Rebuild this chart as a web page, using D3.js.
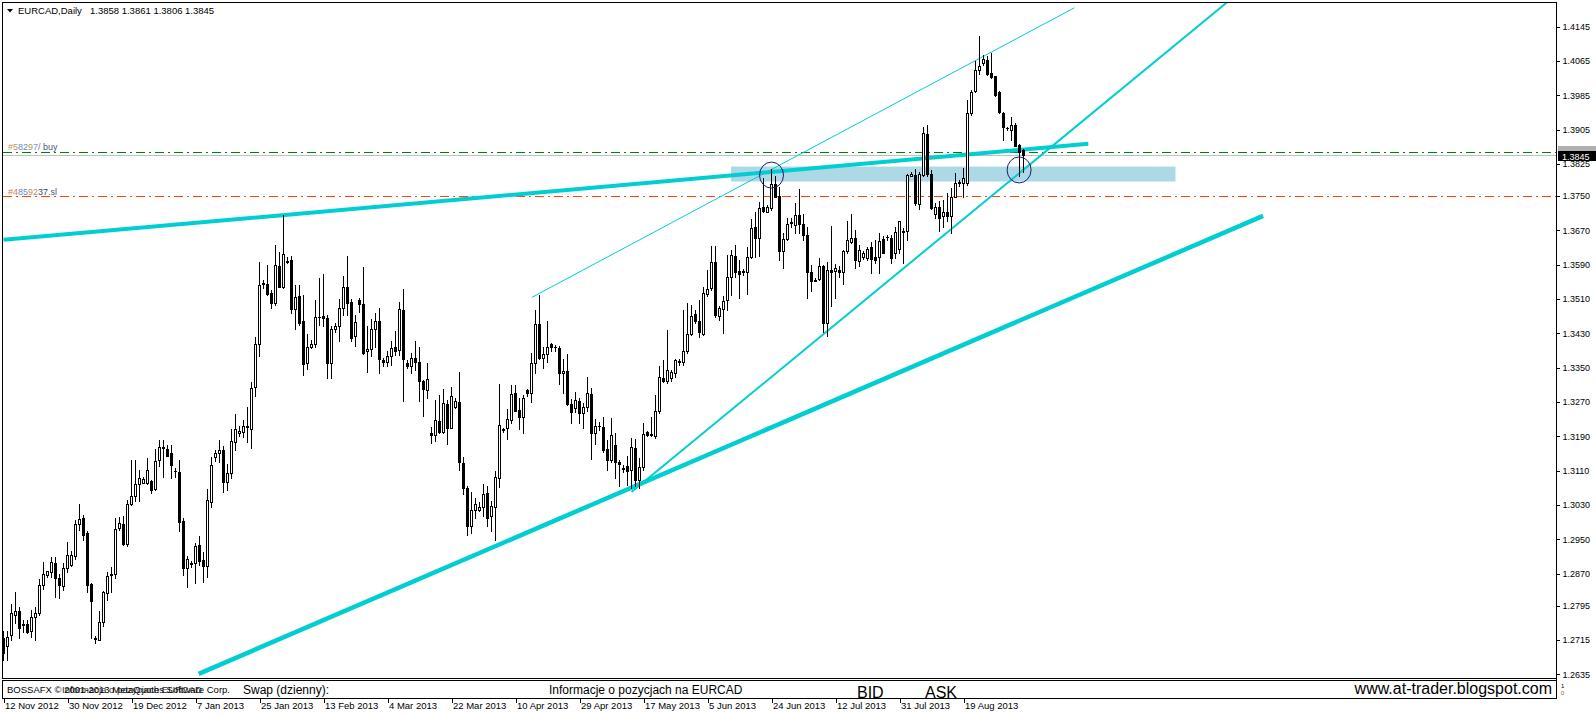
<!DOCTYPE html>
<html><head><meta charset="utf-8">
<script src="https://cdn.jsdelivr.net/npm/d3@7"></script>
<style>
html,body{margin:0;padding:0;background:#fff;overflow:hidden;}
svg{display:block;}
text{font-family:"Liberation Sans",Arial,sans-serif;}
</style></head><body>
<svg id="chart" width="1596" height="716"></svg>
<script>
// ---------------- DATA ----------------
const symbolTitle = "EURCAD,Daily";
const lastOHLC = [1.3858, 1.3861, 1.3806, 1.3845];

const opens = [
1.2719,1.2700,1.2727,1.2774,1.2783,1.2753,1.2753,1.2735,1.2768,1.2779,
1.2844,1.2867,1.2873,1.2894,1.2859,1.2842,1.2883,1.2889,1.2910,1.2986,
1.2999,1.2964,1.2846,1.2717,1.2716,1.2758,1.2824,1.2867,1.2869,1.2976,
1.2986,1.2939,1.3033,1.3051,1.3079,1.3082,1.3081,1.3085,1.3067,1.3134,
1.3162,1.3161,1.3152,1.3109,1.3106,1.2992,1.2882,1.2893,1.2894,1.2936,
1.2902,1.2888,1.3037,1.3142,1.3152,1.3159,1.3084,1.3104,1.3177,1.3197,
1.3199,1.3211,1.3208,1.3304,1.3404,1.3546,1.3546,1.3523,1.3500,1.3587,
1.3539,1.3597,1.3601,1.3486,1.3517,1.3459,1.3360,1.3397,1.3405,1.3468,
1.3470,1.3465,1.3361,1.3439,1.3448,1.3490,1.3537,1.3502,1.3423,1.3508,
1.3498,1.3388,1.3393,1.3440,1.3459,1.3367,1.3364,1.3378,1.3398,1.3392,
1.3485,1.3361,1.3355,1.3372,1.3363,1.3319,1.3297,1.3197,1.3193,1.3226,
1.3200,1.3266,1.3210,1.3258,1.3270,1.3127,1.3069,1.2980,1.3017,1.3017,
1.3024,1.3057,1.3003,1.3025,1.3092,1.3206,1.3209,1.3228,1.3290,1.3252,
1.3236,1.3298,1.3291,1.3360,1.3451,1.3372,1.3381,1.3405,1.3399,1.3395,
1.3337,1.3343,1.3265,1.3256,1.3273,1.3244,1.3258,1.3288,1.3197,1.3215,
1.3211,1.3161,1.3134,1.3169,1.3131,1.3117,1.3121,1.3112,1.3162,1.3089,
1.3118,1.3201,1.3192,1.3190,1.3248,1.3327,1.3318,1.3326,1.3337,1.3365,
1.3364,1.3388,1.3428,1.3475,1.3459,1.3428,1.3522,1.3535,1.3596,1.3471,
1.3487,1.3507,1.3562,1.3611,1.3576,1.3575,1.3574,1.3607,1.3679,1.3652,
1.3724,1.3712,1.3722,1.3779,1.3751,1.3623,1.3650,1.3689,1.3683,1.3706,
1.3684,1.3660,1.3574,1.3555,1.3556,1.3587,1.3454,1.3578,1.3576,1.3578,
1.3573,1.3621,1.3644,1.3653,1.3599,1.3607,1.3605,1.3631,1.3609,1.3609,
1.3651,1.3655,1.3652,1.3617,1.3626,1.3668,1.3668,1.3798,1.3800,1.3731,
1.3800,1.3895,1.3802,1.3709,1.3724,1.3703,1.3713,1.3703,1.3749,1.3783,
1.3780,1.3780,1.3943,1.3994,1.4043,1.4060,1.4068,1.4037,1.4029,1.3992,
1.3943,1.3909,1.3903,1.3916,1.3870,1.3858];

const highs = [
1.2735,1.2735,1.2799,1.2826,1.2793,1.2762,1.2762,1.2786,1.2793,1.2858,
1.2897,1.2877,1.2908,1.2908,1.2869,1.2894,1.2943,1.2923,1.2995,1.3033,
1.3007,1.2968,1.2849,1.2725,1.2783,1.2830,1.2873,1.2886,1.2999,1.3002,
1.3003,1.3042,1.3135,1.3135,1.3112,1.3096,1.3139,1.3089,1.3161,1.3182,
1.3182,1.3170,1.3170,1.3116,1.3135,1.3000,1.2911,1.2900,1.2940,1.2957,
1.2919,1.3066,1.3141,1.3158,1.3181,1.3167,1.3125,1.3208,1.3242,1.3214,
1.3229,1.3259,1.3316,1.3422,1.3597,1.3554,1.3589,1.3531,1.3637,1.3619,
1.3705,1.3607,1.3610,1.3543,1.3543,1.3519,1.3428,1.3414,1.3508,1.3558,
1.3568,1.3473,1.3447,1.3455,1.3511,1.3563,1.3610,1.3511,1.3473,1.3512,
1.3585,1.3446,1.3463,1.3477,1.3489,1.3372,1.3388,1.3412,1.3436,1.3503,
1.3534,1.3367,1.3385,1.3411,1.3398,1.3322,1.3360,1.3211,1.3275,1.3287,
1.3301,1.3275,1.3304,1.3280,1.3341,1.3141,1.3073,1.3061,1.3046,1.3036,
1.3078,1.3073,1.3038,1.3108,1.3312,1.3210,1.3253,1.3310,1.3310,1.3279,
1.3287,1.3300,1.3384,1.3485,1.3520,1.3398,1.3458,1.3407,1.3403,1.3401,
1.3371,1.3381,1.3277,1.3294,1.3279,1.3267,1.3329,1.3302,1.3231,1.3224,
1.3236,1.3182,1.3232,1.3197,1.3135,1.3123,1.3143,1.3186,1.3184,1.3139,
1.3222,1.3203,1.3236,1.3287,1.3355,1.3368,1.3437,1.3345,1.3371,1.3371,
1.3485,1.3500,1.3496,1.3485,1.3507,1.3538,1.3578,1.3634,1.3634,1.3493,
1.3516,1.3613,1.3625,1.3636,1.3601,1.3580,1.3632,1.3696,1.3714,1.3737,
1.3792,1.3730,1.3813,1.3797,1.3772,1.3665,1.3698,1.3698,1.3733,1.3766,
1.3708,1.3677,1.3590,1.3559,1.3605,1.3590,1.3597,1.3681,1.3592,1.3586,
1.3625,1.3691,1.3709,1.3671,1.3636,1.3621,1.3632,1.3644,1.3648,1.3664,
1.3658,1.3660,1.3660,1.3678,1.3692,1.3675,1.3801,1.3807,1.3813,1.3807,
1.3911,1.3916,1.3811,1.3734,1.3738,1.3741,1.3757,1.3769,1.3804,1.3788,
1.3815,1.3975,1.3998,1.4064,1.4124,1.4078,1.4077,1.4083,1.4030,1.3994,
1.3945,1.3912,1.3934,1.3920,1.3872,1.3861];

const lows = [
1.2669,1.2669,1.2716,1.2754,1.2719,1.2733,1.2731,1.2722,1.2716,1.2774,
1.2834,1.2863,1.2863,1.2815,1.2813,1.2831,1.2873,1.2887,1.2904,1.2972,
1.2949,1.2826,1.2719,1.2708,1.2714,1.2748,1.2809,1.2826,1.2859,1.2972,
1.2937,1.2933,1.3030,1.3040,1.3040,1.3081,1.3079,1.3057,1.3064,1.3121,
1.3095,1.3143,1.3092,1.3096,1.2970,1.2867,1.2839,1.2886,1.2849,1.2890,
1.2851,1.2863,1.3024,1.3133,1.3129,1.3061,1.3065,1.3092,1.3158,1.3191,
1.3189,1.3177,1.3163,1.3285,1.3377,1.3535,1.3519,1.3490,1.3496,1.3537,
1.3536,1.3593,1.3478,1.3441,1.3449,1.3334,1.3348,1.3395,1.3399,1.3449,
1.3447,1.3325,1.3325,1.3434,1.3413,1.3473,1.3473,1.3413,1.3401,1.3479,
1.3382,1.3341,1.3378,1.3399,1.3337,1.3353,1.3353,1.3357,1.3380,1.3380,
1.3273,1.3349,1.3337,1.3345,1.3273,1.3238,1.3280,1.3175,1.3180,1.3197,
1.3197,1.3172,1.3209,1.3256,1.3112,1.3056,1.2959,1.2964,1.2999,1.3015,
1.3003,1.2980,1.2970,1.2947,1.3071,1.3199,1.3183,1.3222,1.3248,1.3207,
1.3197,1.3283,1.3271,1.3337,1.3370,1.3349,1.3363,1.3390,1.3390,1.3312,
1.3292,1.3262,1.3222,1.3246,1.3222,1.3209,1.3250,1.3138,1.3172,1.3205,
1.3153,1.3112,1.3129,1.3092,1.3073,1.3106,1.3077,1.3069,1.3073,1.3069,
1.3112,1.3190,1.3190,1.3187,1.3244,1.3316,1.3315,1.3318,1.3328,1.3357,
1.3357,1.3384,1.3427,1.3454,1.3421,1.3425,1.3516,1.3531,1.3469,1.3462,
1.3430,1.3485,1.3520,1.3562,1.3512,1.3566,1.3522,1.3605,1.3609,1.3611,
1.3714,1.3712,1.3718,1.3747,1.3600,1.3582,1.3648,1.3679,1.3665,1.3665,
1.3648,1.3512,1.3528,1.3551,1.3555,1.3432,1.3424,1.3493,1.3512,1.3562,
1.3545,1.3617,1.3640,1.3582,1.3586,1.3603,1.3601,1.3570,1.3594,1.3570,
1.3617,1.3647,1.3595,1.3605,1.3617,1.3595,1.3647,1.3796,1.3730,1.3720,
1.3796,1.3798,1.3720,1.3699,1.3668,1.3679,1.3693,1.3664,1.3748,1.3773,
1.3748,1.3776,1.3940,1.3992,1.4035,1.4056,1.4033,1.4025,1.3984,1.3943,
1.3881,1.3905,1.3880,1.3866,1.3796,1.3806];

const closes = [
1.2684,1.2723,1.2778,1.2783,1.2743,1.2751,1.2733,1.2768,1.2778,1.2844,
1.2869,1.2875,1.2897,1.2859,1.2844,1.2883,1.2914,1.2914,1.2986,1.2998,
1.2960,1.2844,1.2807,1.2719,1.2757,1.2826,1.2865,1.2870,1.2974,1.2988,
1.2939,1.3032,1.3050,1.3078,1.3092,1.3091,1.3112,1.3064,1.3133,1.3165,
1.3165,1.3144,1.3123,1.3108,1.2991,1.2882,1.2903,1.2894,1.2934,1.2900,
1.2888,1.3041,1.3123,1.3152,1.3158,1.3084,1.3104,1.3179,1.3206,1.3202,
1.3214,1.3213,1.3302,1.3405,1.3542,1.3547,1.3521,1.3500,1.3589,1.3539,
1.3614,1.3598,1.3486,1.3514,1.3455,1.3358,1.3397,1.3404,1.3469,1.3469,
1.3465,1.3361,1.3439,1.3448,1.3490,1.3537,1.3501,1.3420,1.3456,1.3498,
1.3385,1.3394,1.3440,1.3458,1.3370,1.3364,1.3378,1.3395,1.3388,1.3486,
1.3370,1.3354,1.3372,1.3364,1.3318,1.3300,1.3324,1.3192,1.3227,1.3200,
1.3267,1.3210,1.3285,1.3273,1.3129,1.3069,1.2980,1.3019,1.3032,1.3024,
1.3056,1.2999,1.3028,1.3095,1.3217,1.3204,1.3230,1.3288,1.3249,1.3236,
1.3280,1.3291,1.3360,1.3451,1.3372,1.3381,1.3398,1.3399,1.3397,1.3337,
1.3343,1.3265,1.3246,1.3275,1.3244,1.3258,1.3291,1.3197,1.3214,1.3214,
1.3157,1.3134,1.3193,1.3129,1.3125,1.3113,1.3110,1.3165,1.3089,1.3118,
1.3195,1.3192,1.3195,1.3248,1.3328,1.3318,1.3345,1.3341,1.3367,1.3364,
1.3389,1.3428,1.3471,1.3458,1.3432,1.3525,1.3534,1.3596,1.3472,1.3489,
1.3506,1.3562,1.3613,1.3574,1.3569,1.3573,1.3607,1.3675,1.3652,1.3723,
1.3716,1.3724,1.3779,1.3749,1.3621,1.3650,1.3685,1.3688,1.3705,1.3684,
1.3660,1.3574,1.3553,1.3552,1.3587,1.3454,1.3578,1.3572,1.3582,1.3572,
1.3621,1.3648,1.3653,1.3600,1.3625,1.3618,1.3626,1.3603,1.3601,1.3646,
1.3617,1.3654,1.3605,1.3666,1.3691,1.3667,1.3800,1.3801,1.3734,1.3801,
1.3897,1.3802,1.3722,1.3724,1.3699,1.3713,1.3703,1.3748,1.3780,1.3781,
1.3792,1.3943,1.3992,1.4043,1.4054,1.4069,1.4035,1.4027,1.3986,1.3945,
1.3911,1.3908,1.3916,1.3867,1.3852,1.3845];

const dateLabels = ["12 Nov 2012","30 Nov 2012","19 Dec 2012","7 Jan 2013","25 Jan 2013","13 Feb 2013",
  "4 Mar 2013","22 Mar 2013","10 Apr 2013","29 Apr 2013","17 May 2013","5 Jun 2013","24 Jun 2013",
  "12 Jul 2013","31 Jul 2013","19 Aug 2013"];
const dateLabelBars = [0,16,32,48,64,80,96,112,128,144,160,176,192,208,224,240];
const priceTicks = [1.4145,1.4065,1.3985,1.3905,1.3825,1.3750,1.3670,1.3590,1.3510,1.3430,
  1.3350,1.3270,1.3190,1.3110,1.3030,1.2950,1.2870,1.2795,1.2715,1.2635];

const bidLevel = 1.3845;
const buyLevel = 1.3852;
const slLevel  = 1.3750;

// trend lines: [bar1, price1, bar2, price2]
const lineUpperThick = [0, 1.3648, 271.2, 1.3872];
const lineLowerThick = [48.8, 1.2636, 314.9, 1.3704];
const lineWedgeLow   = [157, 1.3060, 307.2, 1.4212];
const lineWedgeHigh  = [132.1, 1.3514, 267.7, 1.4189];
// zone rectangle
const zoneBars   = [181.9, 293];
const zonePrices = [1.3784, 1.3819];
// ellipse marks
const markBars   = [192, 253.9];
const markPrices = [1.3799, 1.3811];

const panelTexts = {copy:"BOSSAFX © 2001-2013 MetaQuotes Software Corp.", info1:"Informacje o pozycjach EURCAD",
  swap:"Swap (dzienny):", info:"Informacje o pozycjach na EURCAD", bid:"BID", ask:"ASK", site:"www.at-trader.blogspot.com"};

// ---------------- DRAW ----------------
const svg = d3.select("#chart");
const W = 1596, H = 716;
const FONT = "'Liberation Sans', Arial, sans-serif";
const x = d3.scaleLinear().domain([0, 388]).range([3.5, 1555.5]);
const y = d3.scaleLinear().domain([1.2635, 1.4145]).range([674.3, 26.7]);
const ry = p => Math.round(y(p));

svg.append("rect").attr("width", W).attr("height", H).attr("fill", "#fff");
const defs = svg.append("defs");
defs.append("clipPath").attr("id", "plotClip").append("rect")
  .attr("x", 3).attr("y", 3).attr("width", 1553).attr("height", 675);
defs.append("clipPath").attr("id", "panelClip").append("rect")
  .attr("x", 3).attr("y", 681).attr("width", 1553).attr("height", 17);

const plot = svg.append("g").attr("clip-path", "url(#plotClip)");

// zone
plot.append("rect")
  .attr("x", x(zoneBars[0])).attr("width", x(zoneBars[1]) - x(zoneBars[0]))
  .attr("y", y(zonePrices[1])).attr("height", y(zonePrices[0]) - y(zonePrices[1]))
  .attr("fill", "#ADD8E6");

// horizontal levels
plot.append("line").attr("x1", 3).attr("x2", 1556).attr("y1", ry(bidLevel) + 0.5).attr("y2", ry(bidLevel) + 0.5)
  .attr("stroke", "#C0C0C0").attr("stroke-width", 1);
plot.append("line").attr("x1", 3).attr("x2", 1556).attr("y1", ry(buyLevel) + 0.5).attr("y2", ry(buyLevel) + 0.5)
  .attr("stroke", "#008000").attr("stroke-width", 1).attr("stroke-dasharray", "9,4,2,4");
plot.append("line").attr("x1", 3).attr("x2", 1556).attr("y1", ry(slLevel) + 0.5).attr("y2", ry(slLevel) + 0.5)
  .attr("stroke", "#FF4500").attr("stroke-width", 1).attr("stroke-dasharray", "9,4,2,4");

// trend lines
function trend(l, w) {
  plot.append("line")
    .attr("x1", x(l[0])).attr("y1", y(l[1])).attr("x2", x(l[2])).attr("y2", y(l[3]))
    .attr("stroke", "#00CED1").attr("stroke-width", w).attr("stroke-linecap", "butt");
}
trend(lineUpperThick, 4);
trend(lineLowerThick, 4.5);
trend(lineWedgeLow, 2);
trend(lineWedgeHigh, 1);

// candles
const cg = plot.append("g").attr("shape-rendering", "crispEdges");
opens.forEach((o, i) => {
  const c = closes[i], h = highs[i], l = lows[i];
  const cx = Math.round(x(i) - 0.5);
  const yh = ry(h), yl = ry(l);
  cg.append("rect").attr("x", cx).attr("y", yh).attr("width", 1).attr("height", yl - yh + 1).attr("fill", "#000");
  const top = ry(Math.max(o, c)), bot = ry(Math.min(o, c));
  cg.append("rect").attr("x", cx - 1).attr("y", top).attr("width", 3).attr("height", bot - top + 1).attr("fill", "#000");
  if (c > o && bot - top > 1) {
    cg.append("rect").attr("x", cx).attr("y", top + 1).attr("width", 1).attr("height", bot - top - 1).attr("fill", "#fff");
  }
});

// ellipse marks
markBars.forEach((b, i) => {
  plot.append("ellipse").attr("cx", x(b)).attr("cy", y(markPrices[i])).attr("rx", 12).attr("ry", 13)
    .attr("fill", "none").attr("stroke", "#1C1C6E").attr("stroke-width", 1);
});

// level descriptions (obscured in the reference)
function levelLabel(xPos, yPos, parts) {
  const t = svg.append("text").attr("x", xPos).attr("y", yPos).attr("font-family", FONT).attr("font-size", 9);
  parts.forEach(p => t.append("tspan").attr("fill", p[1]).text(p[0]));
}
levelLabel(8, 150, [["#5", "#c89060"], ["82", "#6a8ac8"], ["9", "#b0a050"], ["7", "#7a9ad0"], ["/ ", "#6a7a9a"], ["buy", "#4a5a7a"]]);
levelLabel(8, 195, [["#4", "#d08050"], ["85", "#6a8ac8"], ["92", "#c09060"], ["37", "#3a4a6a"], [".sl", "#4a5a7a"]]);

// frame
svg.append("rect").attr("x", 2.5).attr("y", 2.5).attr("width", 1554).attr("height", 676)
  .attr("fill", "none").attr("stroke", "#000").attr("stroke-width", 1).attr("shape-rendering", "crispEdges");

// title
svg.append("path").attr("d", "M7,9 L13,9 L10,12.5 Z").attr("fill", "#000");
svg.append("text").attr("x", 18).attr("y", 14).attr("font-family", FONT).attr("font-size", 9.5).attr("fill", "#000").text(symbolTitle);
svg.append("text").attr("x", 90).attr("y", 14).attr("font-family", FONT).attr("font-size", 9.5).attr("fill", "#000")
  .text(lastOHLC.map(d3.format(".4f")).join(" "));

// price axis
const yAxis = d3.axisRight(y).tickValues(priceTicks).tickFormat(d3.format(".4f")).tickSize(3).tickPadding(3);
const ga = svg.append("g").attr("transform", "translate(1556.5,0)").call(yAxis);
ga.select(".domain").remove();
ga.selectAll("line").attr("stroke", "#000").attr("shape-rendering", "crispEdges");
ga.selectAll("text").attr("font-family", FONT).attr("font-size", 9).attr("fill", "#000");
svg.append("line").attr("x1", 1556.5).attr("x2", 1556.5).attr("y1", 2).attr("y2", 699)
  .attr("stroke", "#000").attr("shape-rendering", "crispEdges");

// price tags (ask/level tag behind, bid tag in front)
svg.append("rect").attr("x", 1558).attr("y", 146).attr("width", 38).attr("height", 10).attr("fill", "#B0B0B0");
svg.append("rect").attr("x", 1558).attr("y", 151).attr("width", 38).attr("height", 10).attr("fill", "#000");
svg.append("text").attr("x", 1562).attr("y", 159.5).attr("font-family", FONT).attr("font-size", 9).attr("fill", "#fff").text(d3.format(".4f")(bidLevel));

// bottom info panel
svg.append("rect").attr("x", 2.5).attr("y", 680.5).attr("width", 1554).attr("height", 18)
  .attr("fill", "#fff").attr("stroke", "#000").attr("shape-rendering", "crispEdges");
const pg = svg.append("g").attr("clip-path", "url(#panelClip)").attr("font-family", FONT).attr("fill", "#000");
pg.append("text").attr("x", 7).attr("y", 693).attr("font-size", 9.5).text(panelTexts.copy);
pg.append("text").attr("x", 62).attr("y", 693).attr("font-size", 9.5).attr("opacity", 0.85).text(panelTexts.info1);
pg.append("text").attr("x", 243).attr("y", 694).attr("font-size", 12).text(panelTexts.swap);
pg.append("text").attr("x", 549).attr("y", 694).attr("font-size", 12).text(panelTexts.info);
pg.append("text").attr("x", 857).attr("y", 697.5).attr("font-size", 16).text(panelTexts.bid);
pg.append("text").attr("x", 925).attr("y", 697.5).attr("font-size", 16).text(panelTexts.ask);
pg.append("text").attr("x", 1552).attr("y", 694).attr("font-size", 16).attr("text-anchor", "end").text(panelTexts.site);
svg.append("text").attr("x", 1561).attr("y", 688).attr("font-family", FONT).attr("font-size", 6).attr("fill", "#000").text("1");
svg.append("text").attr("x", 1561).attr("y", 695).attr("font-family", FONT).attr("font-size", 6).attr("fill", "#B85000").text("0");

// date axis
const xAxis = d3.axisBottom(x).tickValues(dateLabelBars).tickFormat((d, i) => dateLabels[i]).tickSize(4).tickPadding(0);
const gx = svg.append("g").attr("transform", "translate(0,698.5)").call(xAxis);
gx.select(".domain").remove();
gx.selectAll("line").attr("stroke", "#000").attr("shape-rendering", "crispEdges");
gx.selectAll("text").attr("font-family", FONT).attr("font-size", 9.5).attr("fill", "#000")
  .attr("text-anchor", "start").attr("x", 1).attr("y", 10).attr("dy", null);
</script>
</body></html>
